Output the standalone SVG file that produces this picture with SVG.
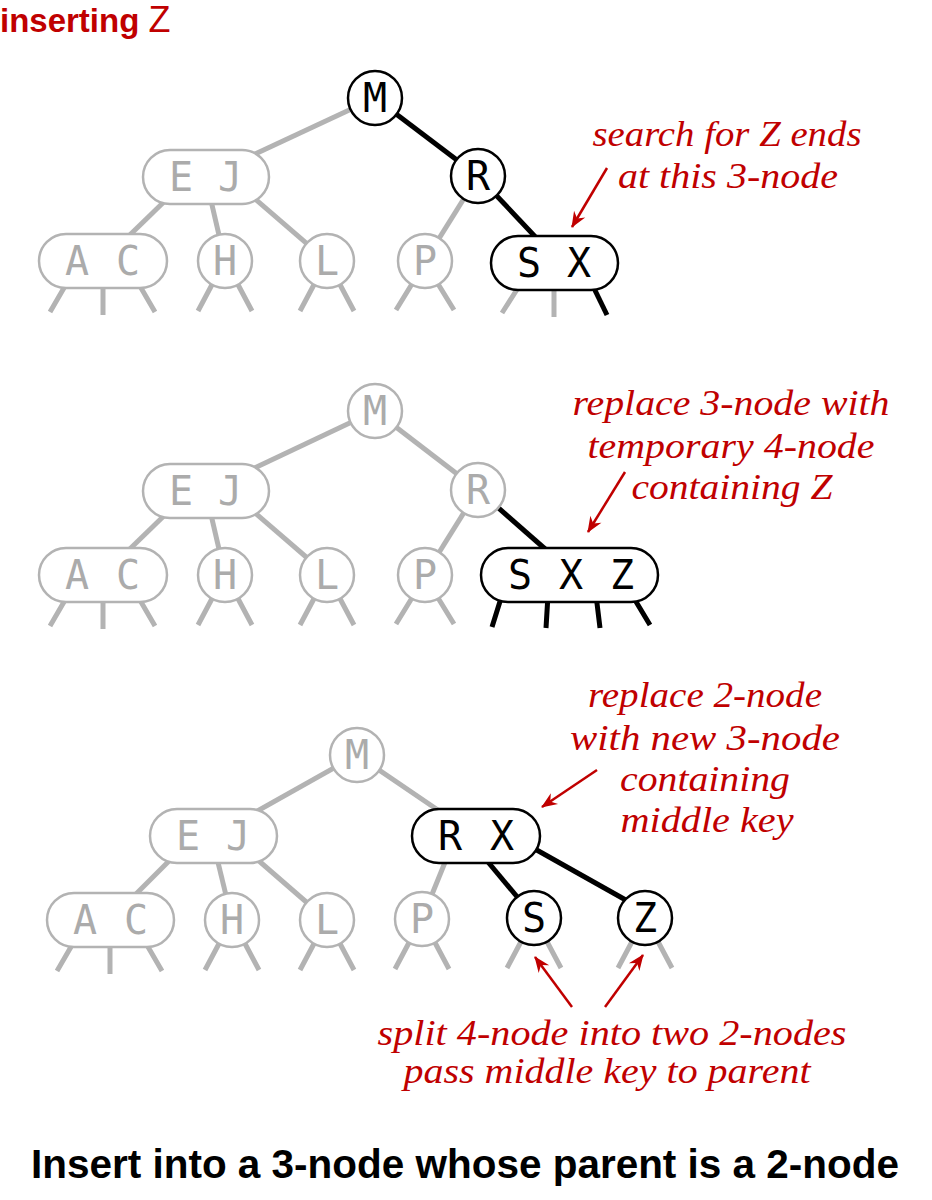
<svg xmlns="http://www.w3.org/2000/svg" width="932" height="1200" viewBox="0 0 932 1200">
<defs>
<style>
.e{stroke:#b3b3b3;stroke-width:5;fill:none}
.eb{stroke:#000;stroke-width:5;fill:none}
.n{fill:#fff;stroke:#b3b3b3;stroke-width:2.5}
.nb{fill:#fff;stroke:#000;stroke-width:2.5}
.k{font-family:"DejaVu Sans Mono",monospace;font-size:40px;fill:#ababab;text-anchor:middle}
.kb{font-family:"DejaVu Sans Mono",monospace;font-size:40px;fill:#000;text-anchor:middle}
.a{font-family:"Liberation Serif",serif;font-style:italic;font-size:35px;fill:#c00000;text-anchor:middle}
.ar{stroke:#c00000;stroke-width:2.5;fill:none;marker-end:url(#ah)}
</style>
<marker id="ah" markerUnits="userSpaceOnUse" viewBox="-16 -8 18 16" markerWidth="18" markerHeight="16" refX="0" refY="0" orient="auto">
<path d="M1,0 L-15,-6.5 L-10,0 L-15,6.5 z" fill="#c00000"/>
</marker>
</defs>
<rect width="932" height="1200" fill="#fff"/>

<text x="0" y="32" font-family="Liberation Sans, sans-serif" font-size="33" fill="#c00000"><tspan font-weight="bold">inserting</tspan> <tspan font-size="36">Z</tspan></text>

<g id="connectors">
<!-- tree 1 -->
<line class="e" x1="375" y1="98" x2="206" y2="177"/>
<line class="eb" x1="375" y1="98" x2="478" y2="176"/>
<line class="e" x1="170" y1="196" x2="103" y2="261"/>
<line class="e" x1="209" y1="192" x2="225" y2="261"/>
<line class="e" x1="240" y1="186" x2="327" y2="261"/>
<line class="e" x1="478" y1="176" x2="425" y2="261"/>
<line class="eb" x1="478" y1="176" x2="560" y2="263"/>
<path class="e" d="M68,281L50,312M103,281L103,315M137,281L155,312M215,279L198,311M235,279L252,311M317,279L300,311M337,279L354,311M415,279L396,310M435,279L454,310M523,280L502,313M554,280L554,317"/>
<path class="eb" d="M590,280L607,315"/>
<!-- tree 2 -->
<line class="e" x1="375" y1="411" x2="206" y2="491"/>
<line class="e" x1="375" y1="411" x2="478" y2="490"/>
<line class="e" x1="170" y1="510" x2="103" y2="575"/>
<line class="e" x1="209" y1="506" x2="225" y2="575"/>
<line class="e" x1="240" y1="500" x2="327" y2="575"/>
<line class="e" x1="478" y1="490" x2="425" y2="575"/>
<line class="eb" x1="478" y1="490" x2="560" y2="562"/>
<path class="e" d="M68,595L50,626M103,595L103,629M137,595L155,626M215,593L198,625M235,593L252,625M317,593L300,625M337,593L354,625M415,593L396,624M435,593L454,624"/>
<path class="eb" d="M502,595L492,627M548,595L546,628M596,595L600,628M632,595L650,625"/>
<!-- tree 3 -->
<line class="e" x1="357" y1="755" x2="213" y2="836"/>
<line class="e" x1="357" y1="755" x2="476" y2="836"/>
<line class="e" x1="182" y1="848" x2="110" y2="920"/>
<line class="e" x1="215" y1="850" x2="232" y2="920"/>
<line class="e" x1="244" y1="848" x2="327" y2="920"/>
<line class="e" x1="450" y1="850" x2="422" y2="919"/>
<line class="eb" x1="478" y1="850" x2="534" y2="917"/>
<line class="eb" x1="510" y1="835" x2="640" y2="908"/>
<path class="e" d="M75,940L57,971M110,940L110,974M144,940L162,971M222,938L205,970M242,938L259,970M317,938L300,970M337,938L354,970M412,937L395,969M432,937L449,969M524,936L507,968M544,936L561,968M635,936L618,968M655,936L672,968"/>
<!-- annotation arrows -->
<line class="ar" x1="607" y1="168" x2="572" y2="227"/>
<line class="ar" x1="625" y1="472" x2="588" y2="532"/>
<line class="ar" x1="597" y1="770" x2="542" y2="807"/>
<line class="ar" x1="572" y1="1007" x2="535" y2="957"/>
<line class="ar" x1="605" y1="1007" x2="643" y2="955"/>
</g>

<!-- tree 1 nodes -->
<g id="t1-M"><circle class="nb" cx="375" cy="98" r="27"/><text class="kb" x="375" y="112">M</text></g>
<g id="t1-EJ"><rect class="n" x="143" y="150" width="126" height="54" rx="27"/><text class="k" x="181 230" y="191">EJ</text></g>
<g id="t1-R"><circle class="nb" cx="478" cy="176" r="27"/><text class="kb" x="478" y="190">R</text></g>
<g id="t1-AC"><rect class="n" x="39" y="234" width="128" height="54" rx="27"/><text class="k" x="77 128" y="275">AC</text></g>
<g id="t1-H"><circle class="n" cx="225" cy="261" r="27"/><text class="k" x="225" y="275">H</text></g>
<g id="t1-L"><circle class="n" cx="327" cy="261" r="27"/><text class="k" x="327" y="275">L</text></g>
<g id="t1-P"><circle class="n" cx="425" cy="261" r="27"/><text class="k" x="425" y="275">P</text></g>
<g id="t1-SX"><rect class="nb" x="491" y="236" width="127" height="54" rx="27"/><text class="kb" x="529 579" y="277">SX</text></g>

<!-- tree 2 nodes -->
<g id="t2-M"><circle class="n" cx="375" cy="411" r="27"/><text class="k" x="375" y="425">M</text></g>
<g id="t2-EJ"><rect class="n" x="143" y="464" width="126" height="54" rx="27"/><text class="k" x="181 230" y="505">EJ</text></g>
<g id="t2-R"><circle class="n" cx="478" cy="490" r="27"/><text class="k" x="478" y="504">R</text></g>
<g id="t2-AC"><rect class="n" x="39" y="548" width="128" height="54" rx="27"/><text class="k" x="77 128" y="589">AC</text></g>
<g id="t2-H"><circle class="n" cx="225" cy="575" r="27"/><text class="k" x="225" y="589">H</text></g>
<g id="t2-L"><circle class="n" cx="327" cy="575" r="27"/><text class="k" x="327" y="589">L</text></g>
<g id="t2-P"><circle class="n" cx="425" cy="575" r="27"/><text class="k" x="425" y="589">P</text></g>
<g id="t2-SXZ"><rect class="nb" x="481" y="548" width="177" height="54" rx="27"/><text class="kb" x="520 571 622" y="589">SXZ</text></g>

<!-- tree 3 nodes -->
<g id="t3-M"><circle class="n" cx="357" cy="755" r="27"/><text class="k" x="357" y="769">M</text></g>
<g id="t3-EJ"><rect class="n" x="150" y="809" width="127" height="54" rx="27"/><text class="k" x="188 238" y="850">EJ</text></g>
<g id="t3-RX"><rect class="nb" x="412" y="809" width="128" height="54" rx="27"/><text class="kb" x="450 502" y="850">RX</text></g>
<g id="t3-AC"><rect class="n" x="47" y="893" width="127" height="54" rx="27"/><text class="k" x="85 136" y="934">AC</text></g>
<g id="t3-H"><circle class="n" cx="232" cy="920" r="27"/><text class="k" x="232" y="934">H</text></g>
<g id="t3-L"><circle class="n" cx="327" cy="920" r="27"/><text class="k" x="327" y="934">L</text></g>
<g id="t3-P"><circle class="n" cx="422" cy="919" r="27"/><text class="k" x="422" y="933">P</text></g>
<g id="t3-S"><circle class="nb" cx="534" cy="918" r="27"/><text class="kb" x="534" y="932">S</text></g>
<g id="t3-Z"><circle class="nb" cx="645" cy="918" r="27"/><text class="kb" x="645" y="932">Z</text></g>

<!-- annotations -->
<g id="note1">
<text class="a" x="727" y="146" textLength="269" lengthAdjust="spacingAndGlyphs">search for Z ends</text>
<text class="a" x="728" y="188" textLength="220" lengthAdjust="spacingAndGlyphs">at this 3-node</text>
</g>
<g id="note2">
<text class="a" x="731" y="415" textLength="317" lengthAdjust="spacingAndGlyphs">replace 3-node with</text>
<text class="a" x="731" y="458" textLength="287" lengthAdjust="spacingAndGlyphs">temporary 4-node</text>
<text class="a" x="732" y="499" textLength="201" lengthAdjust="spacingAndGlyphs">containing Z</text>
</g>
<g id="note3">
<text class="a" x="705" y="707" textLength="234" lengthAdjust="spacingAndGlyphs">replace 2-node</text>
<text class="a" x="705" y="750" textLength="270" lengthAdjust="spacingAndGlyphs">with new 3-node</text>
<text class="a" x="705" y="791" textLength="170" lengthAdjust="spacingAndGlyphs">containing</text>
<text class="a" x="707" y="832" textLength="173" lengthAdjust="spacingAndGlyphs">middle key</text>
</g>
<g id="note4">
<text class="a" x="612" y="1045" textLength="469" lengthAdjust="spacingAndGlyphs">split 4-node into two 2-nodes</text>
<text class="a" x="607" y="1083" textLength="407" lengthAdjust="spacingAndGlyphs">pass middle key to parent</text>
</g>

<text x="465" y="1178" font-family="Liberation Sans, sans-serif" font-weight="bold" font-size="41" text-anchor="middle" textLength="868" lengthAdjust="spacingAndGlyphs" fill="#000">Insert into a 3-node whose parent is a 2-node</text>
</svg>
